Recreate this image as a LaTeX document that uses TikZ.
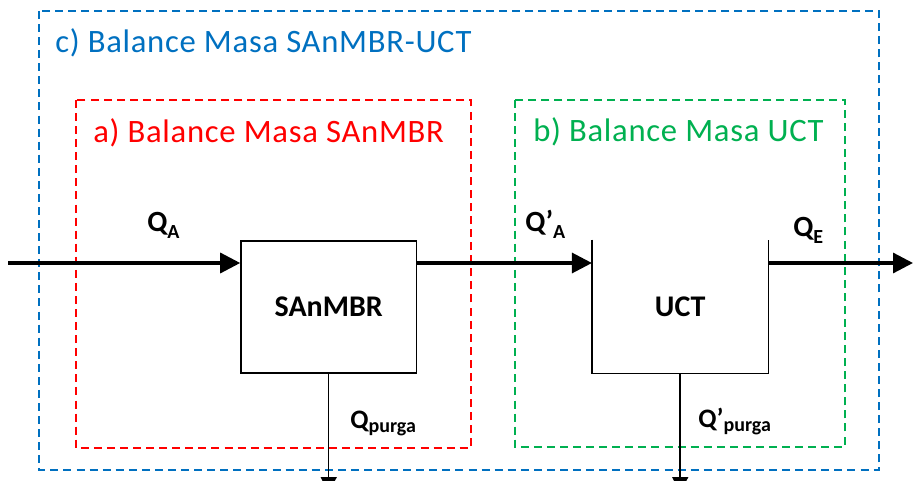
\documentclass[tikz,border=0pt]{standalone}
\usepackage{fontspec}
\setmainfont{Carlito}
\newfontfamily\titlefont[LetterSpace=2.2]{Carlito}
\usetikzlibrary{arrows.meta}
\definecolor{balblue}{HTML}{0070C0}
\definecolor{balred}{HTML}{FF0000}
\definecolor{balgreen}{HTML}{00B050}

\begin{document}
\begin{tikzpicture}[x=0.75pt, y=-0.75pt,
                    frame_style/.style={dashed, line width=1.5pt, dash pattern=on 6pt off 3.8pt},
                    title_style/.style={anchor=base west, inner sep=0pt, font=\titlefont\fontsize{24.5}{24.5}\selectfont},
                    unit_style/.style={inner sep=0pt, font=\fontsize{22.5}{22.5}\selectfont\bfseries},
                    main_flow/.style={-{Triangle[length=15pt,width=15pt]}, line width=2.4pt},
                    purge_flow/.style={-{Triangle[length=12pt,width=12pt]}, line width=1.1pt},
                    q_big/.style={anchor=base west, inner sep=0pt, font=\fontsize{22}{22}\selectfont\bfseries},
                    q_small/.style={anchor=base west, inner sep=0pt, font=\fontsize{20}{20}\selectfont\bfseries}
   ]
   \useasboundingbox (0,0) rectangle (913,481);
   % Balance frames
   \draw[frame_style, balblue] (39,11) rectangle (879,470);
   \draw[frame_style, balred] (76,100) rectangle (471,448);
   \draw[frame_style, balgreen] (515,100) rectangle (845,447);
   \node[title_style, text=balblue] (tc) at (55,53) {c) Balance Masa SAnMBR-UCT};
   \node[title_style, text=balred] (ta) at (93,143) {a) Balance Masa SAnMBR};
   \node[title_style, text=balgreen] (tb) at (533,142) {b) Balance Masa UCT};

   % Units
   \node[unit_style, draw, line width=1.1pt, minimum width=131.6pt, minimum height=99pt] (san) at (328.7,307.2) {SAnMBR};
   \node[unit_style, minimum width=132pt, minimum height=99.75pt] (uct) at (680.2,306.5) {UCT};
   \draw[line width=1.1pt] (uct.north west) -- (uct.south west) -- (uct.south east) -- (uct.north east);

   % Flows
   \coordinate (qin) at (8,263);
   \coordinate (qout) at (913,263);
   \coordinate (sanpurga) at (328.7,493);
   \coordinate (uctpurga) at (680.2,493);
   \draw[main_flow] (qin) -- (qin -| san.west);
   \draw[main_flow] (san.east |- qin) -- (uct.west |- qin);
   \draw[main_flow] (uct.east |- qin) -- (qout);
   \draw[purge_flow] (san.south) -- (sanpurga);
   \draw[purge_flow] (uct.south) -- (uctpurga);

   % Labels
   \node[q_big] (lqa) at (147,231) {Q\raisebox{-0.25em}{\fontsize{15}{15}\selectfont A}};
   \node[q_big] (lqpa) at (525,231) {Q’\raisebox{-0.25em}{\fontsize{15}{15}\selectfont A}};
   \node[q_big] (lqe) at (793,236) {Q\raisebox{-0.25em}{\fontsize{15}{15}\selectfont E}};
   \node[q_small] (lqp) at (350,428) {Q\raisebox{-0.15em}{\fontsize{15}{15}\selectfont purga}};
   \node[q_small] (lqpp) at (698,427) {Q’\raisebox{-0.15em}{\fontsize{15}{15}\selectfont purga}};
\end{tikzpicture}
\end{document}
